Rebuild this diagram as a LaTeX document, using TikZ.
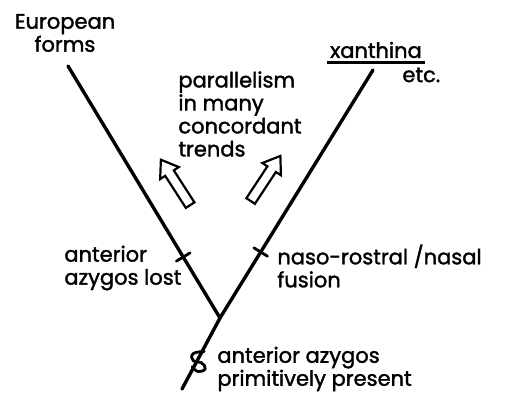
\documentclass[tikz,border=0pt]{standalone}
\usepackage{fontspec}
\setmainfont{Poppins}
\newfontfamily\handfont{Poppins}[FakeBold=1.6]
\usetikzlibrary{shapes.arrows, calc}

\begin{document}
\begin{tikzpicture}[x=0.5pt, y=-0.5pt,
    branch/.style={line width=1.7pt, line cap=round},
    tickmark/.style={line width=1.4pt, line cap=round},
    note/.style={font=\handfont\fontsize{10.5}{11.5}\selectfont, inner sep=0pt, align=left},
    trend/.style={draw, single arrow, line width=1.1pt, inner sep=2pt, minimum height=27pt,
      single arrow head extend=3pt, single arrow tip angle=70}]
    \useasboundingbox (0,0) rectangle (514,396);

    % tree
    \coordinate (eu) at (68,66);
    \coordinate (xa) at (373,70);
    \coordinate (fork) at (220,318);
    \coordinate (root) at (182,389);
    \draw[branch] (eu) -- (fork);
    \draw[branch] (xa) -- (fork) -- (root);

    % character changes
    \coordinate (lossL) at ($(eu)!0.758!(fork)$);
    \draw[tickmark] ($(lossL)!4pt!90:(fork)$) -- ($(lossL)!4pt!-90:(fork)$);
    \coordinate (fusR) at ($(xa)!0.734!(fork)$);
    \draw[tickmark] ($(fusR)!4pt!90:(fork)$) -- ($(fusR)!4pt!-90:(fork)$);
    \coordinate (smark) at ($(fork)!0.6!(root)$);
    \draw[tickmark, shift={(smark)}] plot[smooth, tension=0.8]
      coordinates {(7,-9) (-4,-7) (-4,0) (4,2) (8,8) (1,11) (-5,6)};

    % trends
    \node[trend, rotate=122.8] (trendL) at (177.5,185.5) {};
    \node[trend, rotate=56.6] (trendR) at (263.5,181.5) {};

    % labels
    \node[note, align=center] (european) at (65,33) {European\\forms};
    \node[note, anchor=west] (parallel) at (178,114) {parallelism\\in many\\concordant\\trends};
    \node[note] (xanthina) at (376,50) {xanthina};
    \draw[line width=1.4pt] ($(xanthina.base west)+(-3,5)$) -- ($(xanthina.base east)+(3,5)$);
    \node[note, anchor=west] (etc) at (402,75) {etc.};
    \node[note, anchor=west] (lost) at (64,268) {anterior\\azygos lost};
    \node[note, anchor=west] (fusion) at (277,266) {naso-rostral /nasal\\fusion};
    \node[note, anchor=west] (present) at (217,369) {anterior azygos\\primitively present};
\end{tikzpicture}
\end{document}
